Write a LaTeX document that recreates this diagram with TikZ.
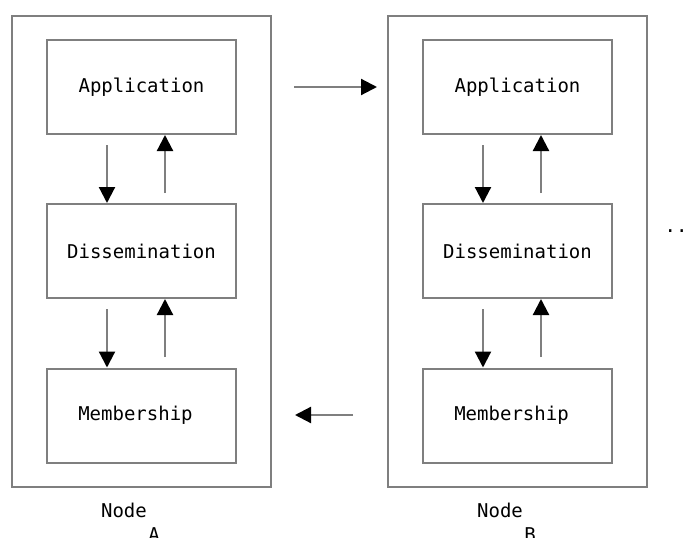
\documentclass[tikz,border=0pt]{standalone}
\usepackage{fontspec}
\setmonofont{DejaVu Sans Mono}
\usetikzlibrary{arrows.meta}
\definecolor{edge}{HTML}{7F7F7F}
\tikzset{
  frame/.style={draw=edge, line width=2pt},
  layer/.style={draw=edge, line width=2pt, minimum width=189pt, minimum height=94pt,
    inner sep=0pt, font=\ttfamily\fontsize{19}{23}\selectfont},
  flow/.style={draw=edge, line width=2.2pt,
    -{Triangle[length=16pt,width=16pt,color=black,fill=black]}},
  caption/.style={font=\ttfamily\fontsize{19}{23}\selectfont, inner sep=0pt},
}
\begin{document}
\begin{tikzpicture}[x=1pt,y=-1pt]
\useasboundingbox (0,0) rectangle (691,538);
% containers
\draw[frame] (12,16) rectangle (271,487);
\draw[frame] (388,16) rectangle (647,487);
% layers of node A
\node[layer] (appA) at (141.5,87) {Application};
\node[layer] (disA) at (141.5,251) {Dissemination};
\node[layer] (memA) at (141.5,415.5) {\hspace*{-12pt}\raisebox{2pt}{Membership}};
% layers of node B
\node[layer] (appB) at (517.5,87) {Application};
\node[layer] (disB) at (517.5,251) {Dissemination};
\node[layer] (memB) at (517.5,415.5) {\hspace*{-12pt}\raisebox{2pt}{Membership}};
% vertical flows, node A
\coordinate (a1) at (107,145);
\coordinate (a2) at (165,193);
\coordinate (a3) at (107,309);
\coordinate (a4) at (165,357);
\draw[flow] (a1) -- (a1 |- disA.north);
\draw[flow] (a2) -- (a2 |- appA.south);
\draw[flow] (a3) -- (a3 |- memA.north);
\draw[flow] (a4) -- (a4 |- disA.south);
% vertical flows, node B
\coordinate (b1) at (483,145);
\coordinate (b2) at (541,193);
\coordinate (b3) at (483,309);
\coordinate (b4) at (541,357);
\draw[flow] (b1) -- (b1 |- disB.north);
\draw[flow] (b2) -- (b2 |- appB.south);
\draw[flow] (b3) -- (b3 |- memB.north);
\draw[flow] (b4) -- (b4 |- disB.south);
% flows between nodes
\coordinate (h1s) at (294,87);
\coordinate (h1e) at (377,87);
\coordinate (h2s) at (353,415);
\coordinate (h2e) at (295,415);
\draw[flow] (h1s) -- (h1e);
\draw[flow] (h2s) -- (h2e);
% more nodes follow
\node[caption] (more) at (676,231) {..};
% captions
\node[caption] (capA) at (124,510) {Node};
\node[caption] (capAl) at (154,535) {A};
\node[caption] (capB) at (500,510) {Node};
\node[caption] (capBl) at (530,535) {B};
\end{tikzpicture}
\end{document}
